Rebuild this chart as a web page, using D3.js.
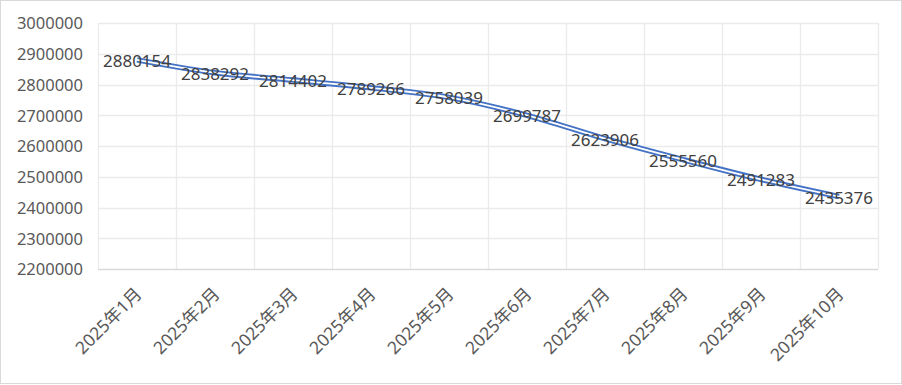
<!DOCTYPE html>
<html><head><meta charset="utf-8">
<script src="https://cdn.jsdelivr.net/npm/d3@7"></script>
<style>
html,body{margin:0;padding:0;background:#fff;}
svg{display:block;}
text{font-family:"Noto Sans","Noto Sans CJK SC",sans-serif;}
</style></head>
<body>
<script>
const categories = ["2025年1月","2025年2月","2025年3月","2025年4月","2025年5月","2025年6月","2025年7月","2025年8月","2025年9月","2025年10月"];
const values = [2880154,2838292,2814402,2789266,2758039,2699787,2623906,2555560,2491283,2435376];
const yTicks = [2200000,2300000,2400000,2500000,2600000,2700000,2800000,2900000,3000000];

(function(){
const W=902,H=385;
const svg=d3.select("body").append("svg").attr("width",W).attr("height",H);
svg.append("rect").attr("x",0.5).attr("y",0.5).attr("width",W-1).attr("height",H-2)
  .attr("fill","#fff").attr("stroke","#d9d9d9");

const pL=98,pR=878,pT=23,pB=269;
const x=d3.scaleBand().domain(categories).range([pL,pR]).padding(0);
const y=d3.scaleLinear().domain([2200000,3000000]).range([pB,pT]);

const g=svg.append("g");
g.selectAll("line.h").data(yTicks.filter(t=>t!==2200000)).join("line")
  .attr("x1",pL).attr("x2",pR).attr("y1",d=>Math.round(y(d))+0.5).attr("y2",d=>Math.round(y(d))+0.5)
  .attr("stroke","#ebebeb").attr("stroke-width",1.3);
const bounds=categories.map(c=>x(c)).concat([pR]);
g.selectAll("line.v").data(bounds).join("line")
  .attr("x1",d=>Math.round(d)+0.5).attr("x2",d=>Math.round(d)+0.5).attr("y1",pT).attr("y2",pB)
  .attr("stroke","#ebebeb").attr("stroke-width",1.3);
g.append("line").attr("x1",pL).attr("x2",pR).attr("y1",pB+0.5).attr("y2",pB+0.5)
  .attr("stroke","#d9d9d9").attr("stroke-width",1.3);

const yAxis=d3.axisLeft(y).tickValues(yTicks).tickSize(0).tickPadding(15).tickFormat(d3.format("d"));
const ya=svg.append("g").attr("transform",`translate(${pL},0)`).call(yAxis);
ya.select(".domain").remove();
ya.selectAll("text").attr("font-size",16.5).attr("fill","#595959").attr("dy","0.35em");

const xAxis=d3.axisBottom(x).tickSize(0).tickPadding(0);
const xa=svg.append("g").attr("transform",`translate(0,${pB})`).call(xAxis);
xa.select(".domain").remove();
xa.selectAll("text").attr("font-size",17.5).attr("fill","#595959")
  .attr("text-anchor","end").attr("dy",0)
  .attr("transform","translate(6,26) rotate(-45)")
  .attr("x",0).attr("y",0);
svg.selectAll("g").attr("font-family",null);

const line=d3.line().x((d,i)=>x(categories[i])+x.bandwidth()/2).y(d=>y(d)).curve(d3.curveMonotoneX);
svg.append("path").datum(values).attr("d",line).attr("fill","none").attr("stroke","#4472c4").attr("stroke-width",5.5);
svg.append("path").datum(values).attr("d",line).attr("fill","none").attr("stroke","#ffffff").attr("stroke-width",1.8);

svg.selectAll("text.lbl").data(values).join("text").attr("class","lbl")
  .attr("x",(d,i)=>x(categories[i])+x.bandwidth()/2)
  .attr("y",d=>y(d)+1).attr("dy","0.35em").attr("text-anchor","middle")
  .attr("font-size",17).attr("fill","#404040").text(d=>d);
})();
</script>
</body></html>
